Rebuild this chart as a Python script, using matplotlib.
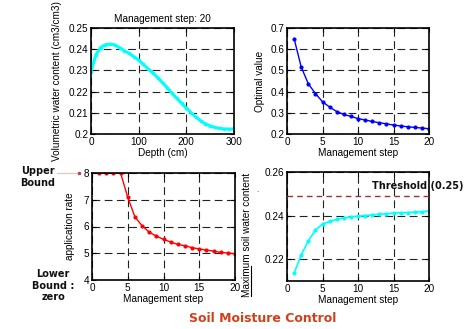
import matplotlib
matplotlib.use("Agg")
import matplotlib.pyplot as plt
from matplotlib.lines import Line2D

# ---- data ----
depth = [0, 10, 20, 30, 40, 50, 60, 70, 80, 90, 100, 110, 120, 130, 140, 150,
         160, 170, 180, 190, 200, 210, 220, 230, 240, 250, 260, 270, 280, 290, 300]
water_content = [0.2294, 0.2372, 0.2408, 0.2421, 0.2424, 0.2420, 0.2407, 0.2393,
                 0.2380, 0.2365, 0.2348, 0.2328, 0.2307, 0.2287, 0.2266, 0.2242,
                 0.2218, 0.2192, 0.2168, 0.2145, 0.2122, 0.2100, 0.2080, 0.2062,
                 0.2048, 0.2038, 0.2031, 0.2026, 0.2024, 0.2023, 0.2024]

steps = list(range(1, 21))
optimal_value = [0.650, 0.516, 0.437, 0.391, 0.352, 0.327, 0.306, 0.292, 0.283, 0.273,
                 0.266, 0.259, 0.253, 0.248, 0.242, 0.238, 0.234, 0.231, 0.228, 0.225]
application_rate = [8.0, 8.0, 8.0, 8.0, 7.09, 6.36, 6.03, 5.79, 5.64, 5.52,
                    5.42, 5.33, 5.28, 5.21, 5.16, 5.12, 5.08, 5.03, 5.01, 4.98]
max_water = [0.2136, 0.2220, 0.2283, 0.2334, 0.2361, 0.2373, 0.2383, 0.2389, 0.2394, 0.2397,
             0.2400, 0.2403, 0.2406, 0.2409, 0.2411, 0.2413, 0.2414, 0.2416, 0.2417, 0.2422]
threshold = 0.249

W, H = 468, 329
fig = plt.figure(figsize=(W / 100, H / 100), dpi=100)
plt.rcParams['font.family'] = ['Liberation Sans', 'DejaVu Sans']

def ax_at(x0, y0, x1, y1):
    return fig.add_axes([x0 / W, 1 - y1 / H, (x1 - x0) / W, (y1 - y0) / H])

fs = 7.2

def style(ax):
    ax.grid(True, color='#222222', linestyle=(0, (7, 4)), linewidth=0.8)
    ax.tick_params(direction='in', labelsize=fs, length=3, width=0.8, pad=2,
                   top=True, right=True)
    for s in ax.spines.values():
        s.set_linewidth(1.2)
    ax.set_axisbelow(True)

# top-left
ax1 = ax_at(91, 28, 234, 134)
ax1.plot(depth, water_content, color='#00FFFF', lw=2.2, marker='.', ms=3)
ax1.set_xlim(0, 300)
ax1.set_ylim(0.2, 0.25)
ax1.set_xticks([0, 100, 200, 300])
ax1.set_yticks([0.2, 0.21, 0.22, 0.23, 0.24, 0.25])
ax1.set_yticklabels(['0.2', '0.21', '0.22', '0.23', '0.24', '0.25'])
ax1.set_xlabel('Depth (cm)', fontsize=fs, labelpad=1)
ax1.set_ylabel('Volumetric water content (cm3/cm3)', fontsize=fs, labelpad=5)
ax1.set_title('Management step: 20', fontsize=fs, pad=4)
style(ax1)

# top-right
ax2 = ax_at(287, 28, 429, 134)
ax2.plot(steps, optimal_value, color='#0000FF', lw=1.0, marker='.', ms=4)
ax2.set_xlim(0, 20)
ax2.set_ylim(0.2, 0.7)
ax2.set_xticks([0, 5, 10, 15, 20])
ax2.set_yticks([0.2, 0.3, 0.4, 0.5, 0.6, 0.7])
ax2.set_xlabel('Management step', fontsize=fs, labelpad=1)
ax2.set_ylabel('Optimal value', fontsize=fs, labelpad=4)
style(ax2)

# bottom-left
ax3 = ax_at(92, 173, 235, 280)
ax3.plot(steps, application_rate, color='#FF0000', lw=1.0, marker='.', ms=4)
ax3.set_xlim(0, 20)
ax3.set_ylim(4, 8)
ax3.set_xticks([0, 5, 10, 15, 20])
ax3.set_yticks([4, 5, 6, 7, 8])
ax3.set_xlabel('Management step', fontsize=fs, labelpad=1)
ax3.set_ylabel('application rate', fontsize=fs, labelpad=6)
style(ax3)

# bottom-right
ax4 = ax_at(287, 172, 429, 281)
ax4.plot(steps, max_water, color='#00FFFF', lw=1.2, marker='.', ms=4)
ax4.axhline(threshold, color='#A03030', lw=1.0, linestyle=(0, (4, 3)), zorder=3)
ax4.set_xlim(0, 20)
ax4.set_ylim(0.21, 0.26)
ax4.set_xticks([0, 5, 10, 15, 20])
ax4.set_yticks([0.22, 0.24, 0.26])
ax4.set_xlabel('Management step', fontsize=fs, labelpad=1)
style(ax4)
fig.text(246.5 / W, 1 - 235 / H, 'Maximum soil water content', rotation=90,
         ha='center', va='center', fontsize=fs)
fig.add_artist(Line2D([250.5 / W, 250.5 / W], [1 - 266 / H, 1 - 296 / H],
                      color='black', lw=0.8))
fig.text(257 / W, 1 - 191 / H, '.', ha='center', va='center', fontsize=6, color='#333333')

# annotations
bold = dict(family='DejaVu Sans', fontweight='bold', fontsize=7, color='#111111')
fig.text(38 / W, 1 - 171.5 / H, 'Upper', ha='center', va='center', **bold)
fig.text(38 / W, 1 - 183.5 / H, 'Bound', ha='center', va='center', **bold)
fig.add_artist(Line2D([57 / W, 79 / W], [1 - 173 / H, 1 - 173 / H],
                      color='#E0C8C8', lw=0.9))
fig.add_artist(Line2D([79 / W], [1 - 173 / H], color='#C04040', marker='.', ms=3, lw=0))
fig.text(53 / W, 1 - 274 / H, 'Lower', ha='center', va='center', **bold)
fig.text(53 / W, 1 - 286 / H, 'Bound :', ha='center', va='center', **bold)
fig.text(53 / W, 1 - 297 / H, 'zero', ha='center', va='center', **bold)
fig.text(418 / W, 1 - 186 / H, 'Threshold (0.25)', ha='center', va='center', **bold)

fig.text(263 / W, 1 - 319 / H, 'Soil Moisture Control', ha='center', va='center',
         family='DejaVu Sans', fontweight='bold', fontsize=9, color='#D2401A')

fig.savefig('out.png', dpi=100)
